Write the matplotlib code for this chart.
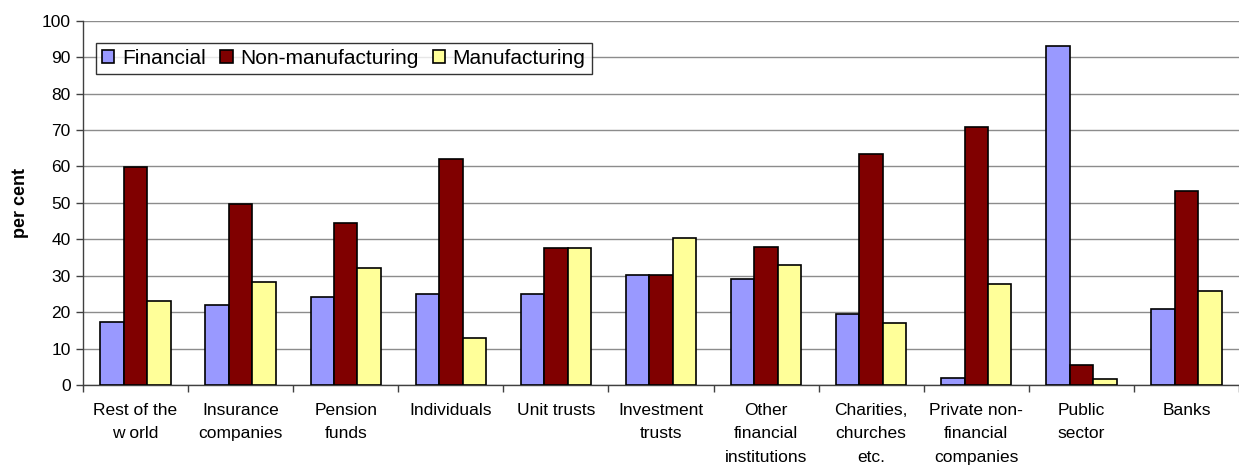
import numpy as np
from matplotlib import pyplot as plt

# Share of holdings by sector (per cent)
categories = [
    "Rest of the\nw orld", "Insurance\ncompanies", "Pension\nfunds", "Individuals",
    "Unit trusts", "Investment\ntrusts", "Other\nfinancial\ninstitutions",
    "Charities,\nchurches\netc.", "Private non-\nfinancial\ncompanies", "Public\nsector", "Banks",
]
financial = [17.2, 21.9, 24.2, 25.0, 25.0, 30.1, 29.2, 19.5, 1.8, 93.0, 20.8]
non_manufacturing = [59.7, 49.6, 44.5, 62.0, 37.5, 30.1, 38.0, 63.4, 70.8, 5.6, 53.2]
manufacturing = [23.1, 28.3, 32.0, 13.0, 37.5, 40.3, 32.8, 17.1, 27.8, 1.5, 25.9]

series = [
    ("Financial", financial, "#9999ff"),
    ("Non-manufacturing", non_manufacturing, "#800000"),
    ("Manufacturing", manufacturing, "#ffff99"),
]

plt.rcParams["font.family"] = ["Liberation Sans", "DejaVu Sans"]

fig = plt.figure(figsize=(12.39, 4.70), dpi=100)
ax = fig.add_axes([0.067, 0.181, 0.933, 0.775])

x = np.arange(len(categories))
width = 0.223
for i, (name, values, color) in enumerate(series):
    ax.bar(x + (i - 1) * width, values, width, color=color, edgecolor="black",
           linewidth=1.2, label=name, zorder=3)

ax.set_xlim(-0.5, len(categories) - 0.5)
ax.set_ylim(0, 100)
ax.set_yticks(range(0, 101, 10))
ax.yaxis.grid(True, color="#8c8c8c", linewidth=1.0, zorder=0)

ax.set_xticks(x)
ax.set_xticklabels(categories, fontsize=12.5, linespacing=1.7)
ax.set_xticks(np.arange(-0.5, len(categories), 1.0), minor=True)
ax.tick_params(axis="x", which="major", length=0, pad=13)
ax.tick_params(axis="x", which="minor", length=5, color="#404040", width=1)
ax.tick_params(axis="y", length=5, color="#404040", width=1, labelsize=12.5, pad=4)

for side in ("top", "right"):
    ax.spines[side].set_visible(False)
for side in ("left", "bottom"):
    ax.spines[side].set_color("#404040")
    ax.spines[side].set_linewidth(1.0)

ax.set_ylabel("per cent", fontsize=13, fontweight="bold", labelpad=9)

leg = ax.legend(loc="upper left", bbox_to_anchor=(0.011, 0.94), ncol=3, fontsize=15,
                frameon=True, fancybox=False, edgecolor="black", borderaxespad=0,
                handlelength=0.6, handleheight=0.6, handletextpad=0.35,
                columnspacing=0.7, borderpad=0.3)
leg.get_frame().set_linewidth(1.0)
leg.set_zorder(5)

plt.savefig("out.png", dpi=100)
